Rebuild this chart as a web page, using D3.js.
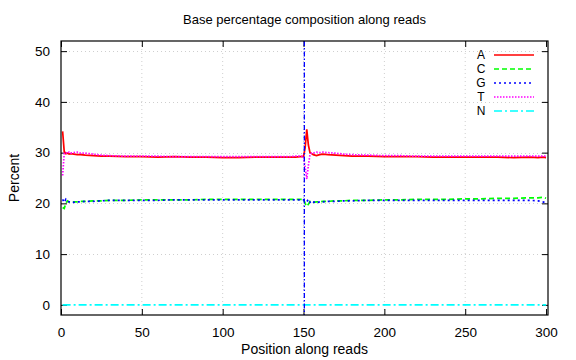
<!DOCTYPE html>
<html>
<head>
<meta charset="utf-8">
<script src="https://cdn.jsdelivr.net/npm/d3@7"></script>
<style>
  html, body { margin: 0; padding: 0; background: #fff; }
  svg { display: block; font-family: "Liberation Sans", Arial, Helvetica, sans-serif; }
</style>
</head>
<body>
<svg id="chart" width="576" height="360"></svg>
<script>
// ---- Data ----
const positions = [1,2,3,4,5,6,8,10,12,15,20,25,30,40,50,60,70,80,90,100,110,120,130,140,145,148,150,
                   151,152,153,154,155,156,158,160,162,165,170,175,180,190,200,210,220,230,240,250,260,270,280,290,295,298,300];
const seriesA = [34.2,30.2,29.8,29.9,29.7,29.8,29.7,29.6,29.6,29.5,29.4,29.3,29.3,29.2,29.2,29.1,29.2,29.1,29.1,29.0,29.0,29.1,29.1,29.1,29.1,29.2,29.2,
                 31.0,34.6,31.5,30.0,29.8,29.6,29.4,29.6,29.7,29.6,29.5,29.4,29.3,29.3,29.2,29.2,29.2,29.1,29.1,29.1,29.1,29.1,29.0,29.1,29.0,29.1,29.0];
const seriesC = [19.2,19.0,20.0,20.5,20.3,20.2,20.3,20.3,20.4,20.4,20.5,20.5,20.6,20.6,20.7,20.7,20.7,20.7,20.8,20.8,20.8,20.8,20.8,20.8,20.8,20.8,20.8,
                 20.0,19.4,19.8,20.4,20.3,20.2,20.3,20.3,20.4,20.4,20.5,20.5,20.6,20.6,20.7,20.7,20.8,20.8,20.8,20.9,20.9,21.0,21.0,21.1,21.1,21.2,21.0];
const seriesG = [20.8,20.2,20.8,20.4,20.3,20.3,20.2,20.3,20.3,20.4,20.4,20.5,20.6,20.6,20.6,20.6,20.7,20.7,20.7,20.7,20.7,20.7,20.7,20.7,20.7,20.7,20.7,
                 20.5,20.3,20.8,20.2,20.5,20.3,20.1,20.3,20.3,20.4,20.4,20.5,20.5,20.6,20.6,20.6,20.6,20.6,20.6,20.6,20.6,20.6,20.6,20.6,20.5,20.3,20.1];
const seriesT = [25.5,29.9,30.0,29.8,30.1,29.9,30.0,30.1,29.9,29.9,29.7,29.5,29.4,29.3,29.3,29.3,29.2,29.2,29.2,29.2,29.2,29.2,29.2,29.2,29.3,29.3,29.3,
                 27.0,24.8,27.5,29.6,29.9,29.9,30.1,30.0,30.1,30.0,29.9,29.7,29.6,29.5,29.4,29.4,29.3,29.3,29.3,29.3,29.3,29.3,29.3,29.3,29.3,29.3,29.3];
const seriesN = [0.0,0.0,0.0,0.0,0.0,0.0,0.0,0.0,0.0,0.0,0.0,0.0,0.0,0.0,0.0,0.0,0.0,0.0,0.0,0.0,0.0,0.0,0.0,0.0,0.0,0.0,0.0,
                 0.0,0.0,0.0,0.0,0.0,0.0,0.0,0.0,0.0,0.0,0.0,0.0,0.0,0.0,0.0,0.0,0.0,0.0,0.0,0.0,0.0,0.0,0.0,0.0,0.0,0.0,0.0];
const seriesNames = ["A","C","G","T","N"];
const xTicks = [0,50,100,150,200,250,300];
const yTicks = [0,10,20,30,40,50];
const readSplit = [150.5];
const titleText = "Base percentage composition along reads";
const xLabel = "Position along reads";
const yLabel = "Percent";

// ---- Layout / styles ----
const L = 61, R = 548, T = 41, B = 315;
const colors = ["#ff0000","#00ff00","#0000ff","#ff00ff","#00ffff"];
const dashes = [null,"5,3","2,3","1.5,1.5","8,3,2,3"];

const svg = d3.select("#chart");
const x = d3.scaleLinear().domain([0, 301.2]).range([L, R]);
const y = d3.scaleLinear().domain([-2, 52]).range([B, T]);

// grid
const grid = svg.append("g");
grid.selectAll("line.gx").data(xTicks.filter(d => d > 0 && d < 300)).enter().append("line")
  .attr("x1", d => x(d)).attr("x2", d => x(d)).attr("y1", T).attr("y2", B)
  .attr("stroke", "#cfcfcf").attr("stroke-width", 1).attr("stroke-dasharray", "1,3");
grid.selectAll("line.gy").data(yTicks.filter(d => d > 0)).enter().append("line")
  .attr("x1", L).attr("x2", R).attr("y1", d => Math.round(y(d)) + 0.5).attr("y2", d => Math.round(y(d)) + 0.5)
  .attr("stroke", "#cfcfcf").attr("stroke-width", 1).attr("stroke-dasharray", "1,3");

// axes (ticks inward, mirrored)
const tickLen = 6;
const xAxB = d3.axisBottom(x).tickValues(xTicks).tickSize(-tickLen).tickPadding(12);
const xAxT = d3.axisTop(x).tickValues(xTicks).tickSize(-tickLen).tickFormat("");
const yAxL = d3.axisLeft(y).tickValues(yTicks).tickSize(-tickLen).tickPadding(11);
const yAxR = d3.axisRight(y).tickValues(yTicks).tickSize(-tickLen).tickFormat("");
function styleAxis(g) {
  g.select(".domain").remove();
  g.selectAll(".tick line").attr("stroke", "#000");
  g.selectAll(".tick text").attr("fill", "#000").attr("font-size", 13.5)
    .attr("font-family", "'Liberation Sans', Arial, sans-serif");
}
svg.append("g").attr("transform", `translate(0,${B})`).call(xAxB).call(styleAxis);
svg.append("g").attr("transform", `translate(0,${T})`).call(xAxT).call(styleAxis);
svg.append("g").attr("transform", `translate(${L},0)`).call(yAxL).call(styleAxis);
svg.append("g").attr("transform", `translate(${R},0)`).call(yAxR).call(styleAxis);

// data lines
const allSeries = [seriesA, seriesC, seriesG, seriesT, seriesN];
const line = d3.line().x(d => x(d[0])).y(d => y(d[1]));
svg.append("clipPath").attr("id", "clip").append("rect")
  .attr("x", L).attr("y", T).attr("width", R - L).attr("height", B - T);
const plot = svg.append("g").attr("clip-path", "url(#clip)");
allSeries.forEach((s, i) => {
  const pts = positions.map((p, k) => [p, s[k]]);
  plot.append("path").attr("d", line(pts)).attr("fill", "none")
    .attr("stroke", colors[i]).attr("stroke-width", 1.7)
    .attr("stroke-dasharray", dashes[i]);
});

// read split line
plot.selectAll("line.split").data(readSplit).enter().append("line")
  .attr("x1", d => x(d)).attr("x2", d => x(d)).attr("y1", T).attr("y2", B)
  .attr("stroke", "#0000ff").attr("stroke-width", 1.3).attr("stroke-dasharray", "5,2,1.5,2");

// frame
svg.append("rect").attr("x", L).attr("y", T).attr("width", R - L).attr("height", B - T)
  .attr("fill", "none").attr("stroke", "#000").attr("stroke-width", 1.2);

// legend
const lg = svg.append("g");
seriesNames.forEach((n, i) => {
  const yy = 55 + i * 14;
  lg.append("text").attr("x", 481).attr("y", yy).attr("dy", "0.36em").attr("text-anchor", "middle")
    .attr("font-size", 12).text(n);
  lg.append("line").attr("x1", 494).attr("x2", 534).attr("y1", yy).attr("y2", yy)
    .attr("stroke", colors[i]).attr("stroke-width", 1.7).attr("stroke-dasharray", dashes[i]);
});

// titles
svg.append("text").attr("x", (L + R) / 2).attr("y", 24).attr("text-anchor", "middle")
  .attr("font-size", 13).text(titleText);
svg.append("text").attr("x", (L + R) / 2).attr("y", 354).attr("text-anchor", "middle")
  .attr("font-size", 14).text(xLabel);
svg.append("text").attr("transform", `translate(19,${(T + B) / 2}) rotate(-90)`)
  .attr("text-anchor", "middle").attr("font-size", 14).text(yLabel);
</script>
</body>
</html>
